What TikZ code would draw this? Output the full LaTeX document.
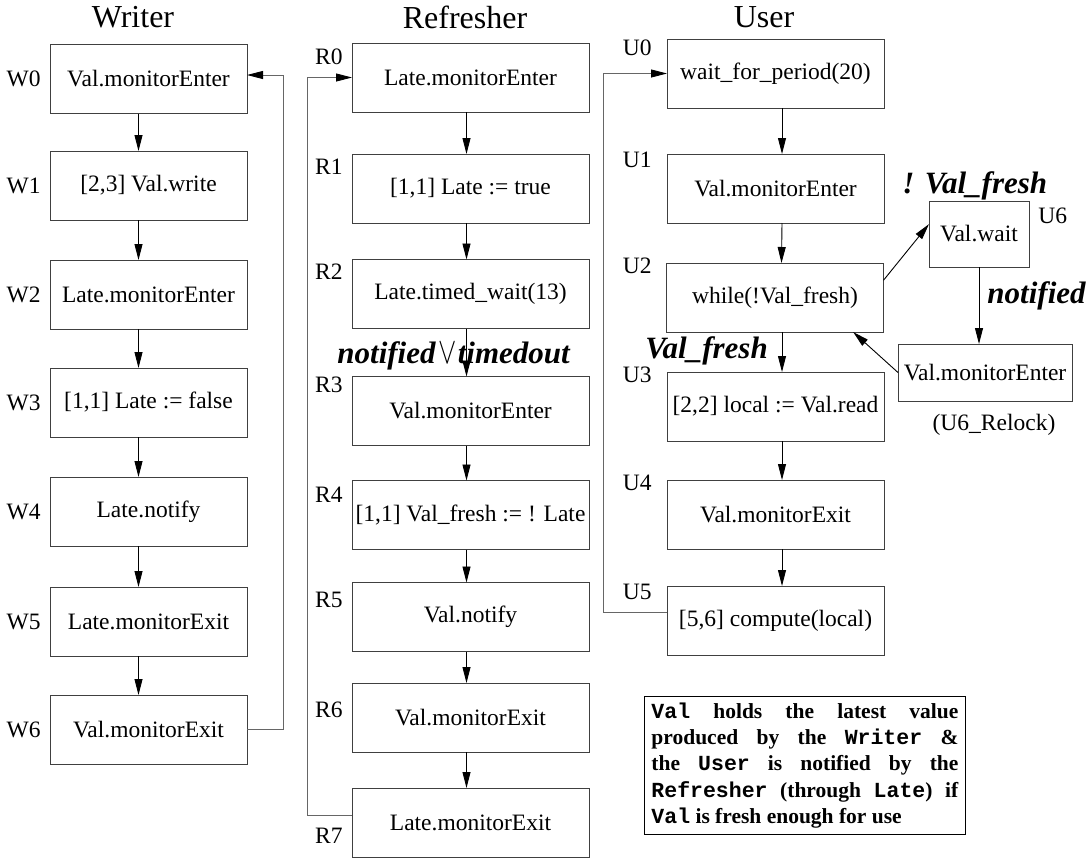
\documentclass[tikz,border=0pt]{standalone}
\usepackage{fontspec}
\setmainfont{Liberation Serif}
\setmonofont{Liberation Mono}
\usetikzlibrary{arrows.meta,positioning,calc}
\newcommand{\stepfont}{\fontsize{23.5}{28}\selectfont}
\newcommand{\colheadfont}{\fontsize{32}{38}\selectfont}
\newcommand{\condfont}{\fontsize{31}{36}\selectfont\bfseries\itshape}
\newcommand{\notefont}{\fontsize{21.5}{26.3}\selectfont\bfseries}
\tikzset{
	Loop/.style={draw=black!60, -{Triangle[length=16pt,width=8pt,color=black]}},
	Cond/.style={font=\condfont, anchor=base west},
	StateLbl/.style={anchor=east}
}

\begin{document}
\begin{tikzpicture}[x=1pt, y=-1pt, inner sep=0pt, font=\stepfont, line width=0.9pt,
		>={Triangle[length=16pt,width=8pt]},
		StepBox/.style={draw=black!75, minimum height=69pt, outer sep=0pt}]
	\useasboundingbox (0,0) rectangle (1090,860);
	% column headers
	\node[font=\colheadfont] (WriterT) at (133,17) {Writer};
	\node[font=\colheadfont] (RefresherT) at (465,17) {Refresher};
	\node[font=\colheadfont] (UserT) at (764,17) {User};
	% Writer
	\node[StepBox, minimum width=197pt] (W0) at (148.5,79) {Val.monitorEnter};
	\node[StepBox, minimum width=197pt] (W1) at (148.5,185.5) {[2,3] Val.write};
	\node[StepBox, minimum width=197pt] (W2) at (148.5,294.5) {Late.monitorEnter};
	\node[StepBox, minimum width=197pt] (W3) at (148.5,402.5) {[1,1] Late := false};
	\node[StepBox, minimum width=197pt] (W4) at (148.5,511.5) {Late.notify};
	\node[StepBox, minimum width=197pt] (W5) at (148.5,621.5) {Late.monitorExit};
	\node[StepBox, minimum width=197pt] (W6) at (148.5,729.5) {Val.monitorExit};
	\node[left=9pt of W0] (W0l) {W0};
	\node[left=9pt of W1] (W1l) {W1};
	\node[left=9pt of W2] (W2l) {W2};
	\node[left=9pt of W3] (W3l) {W3};
	\node[left=9pt of W4] (W4l) {W4};
	\node[left=9pt of W5] (W5l) {W5};
	\node[left=9pt of W6] (W6l) {W6};
	\draw[->] ([xshift=-10pt]W0.south) -- ([xshift=-10pt]W1.north);
	\draw[->] ([xshift=-10pt]W1.south) -- ([xshift=-10pt]W2.north);
	\draw[->] ([xshift=-10pt]W2.south) -- ([xshift=-10pt]W3.north);
	\draw[->] ([xshift=-10pt]W3.south) -- ([xshift=-10pt]W4.north);
	\draw[->] ([xshift=-10pt]W4.south) -- ([xshift=-10pt]W5.north);
	\draw[->] ([xshift=-10pt]W5.south) -- ([xshift=-10pt]W6.north);
	\draw[Loop] (W6.east) -- ++(36,0) |- ([yshift=4pt]W0.east);
	% Refresher
	\node[StepBox, minimum width=237pt] (R0) at (470.5,77.5) {Late.monitorEnter};
	\node[StepBox, minimum width=237pt] (R1) at (470.5,188.5) {[1,1] Late := true};
	\node[StepBox, minimum width=237pt] (R2) at (470.5,294) {Late.timed\_wait(13)};
	\node[StepBox, minimum width=237pt] (R3) at (470.5,411) {Val.monitorEnter};
	\node[StepBox, minimum width=237pt] (R4) at (470.5,515) {[1,1] Val\_fresh := ! Late};
	\node[StepBox, minimum width=237pt] (R5) at (470.5,617) {Val.notify};
	\node[StepBox, minimum width=237pt] (R6) at (470.5,717.5) {Val.monitorExit};
	\node[StepBox, minimum width=237pt] (R7) at (470.5,822.5) {Late.monitorExit};
	\node[StateLbl] (R0l) at (343,57) {R0};
	\node[StateLbl] (R1l) at (343,167) {R1};
	\node[StateLbl] (R2l) at (343,272) {R2};
	\node[StateLbl] (R3l) at (343,385) {R3};
	\node[StateLbl] (R4l) at (343,495) {R4};
	\node[StateLbl] (R5l) at (343,600) {R5};
	\node[StateLbl] (R6l) at (343,710) {R6};
	\node[StateLbl] (R7l) at (343,836) {R7};
	\draw[->] ([xshift=-4pt]R0.south) -- ([xshift=-4pt]R1.north);
	\draw[->] ([xshift=-4pt]R1.south) -- ([xshift=-4pt]R2.north);
	\draw[->] ([xshift=-4pt]R2.south) -- ([xshift=-4pt]R3.north);
	\draw[->] ([xshift=-4pt]R3.south) -- ([xshift=-4pt]R4.north);
	\draw[->] ([xshift=-4pt]R4.south) -- ([xshift=-4pt]R5.north);
	\draw[->] ([xshift=-4pt]R5.south) -- ([xshift=-4pt]R6.north);
	\draw[->] ([xshift=-4pt]R6.south) -- ([xshift=-4pt]R7.north);
	\draw[Loop] ([yshift=7.5pt]R7.west) -- ++(-45,0) |- (R0.west);
	\node[Cond] (R2c) at (337,363) {notified\kern3pt{\normalfont\scalebox{1.1}[1.5]{$\vee$}}\kern1pt timedout};
	% User
	\node[StepBox, minimum width=217pt] (U0) at (775.5,73.5) {wait\_for\_period(20)};
	\node[StepBox, minimum width=217pt] (U1) at (775.5,188.5) {Val.monitorEnter};
	\node[StepBox, minimum width=217pt] (U2) at (775,297.5) {while(!Val\_fresh)};
	\node[StepBox, minimum width=217pt] (U3) at (775.5,406.5) {[2,2] local := Val.read};
	\node[StepBox, minimum width=217pt] (U4) at (775.5,514.5) {Val.monitorExit};
	\node[StepBox, minimum width=217pt] (U5) at (775.5,620.5) {[5,6] compute(local)};
	\node[StepBox, minimum width=100pt, minimum height=66pt] (U6) at (979,234) {Val.wait};
	\node[StepBox, minimum width=174pt, minimum height=57pt] (U6r) at (985,372.5) {Val.monitorEnter};
	\node[below=13pt of U6r, xshift=9pt] (U6rl) {(U6\_Relock)};
	\node[StateLbl] (U0l) at (652,48) {U0};
	\node[StateLbl] (U1l) at (652,160) {U1};
	\node[StateLbl] (U2l) at (652,266) {U2};
	\node[StateLbl] (U3l) at (652,375) {U3};
	\node[StateLbl] (U4l) at (652,483) {U4};
	\node[StateLbl] (U5l) at (652,592) {U5};
	\node[anchor=west] (U6l) at (1038,216) {U6};
	\draw[->] ([xshift=6.5pt]U0.south) -- ([xshift=6.5pt]U1.north);
	\draw[->] ([xshift=6.5pt]U1.south) -- ([xshift=6.5pt]U2.north);
	\draw[->] ([xshift=7pt]U2.south) -- ([xshift=6.5pt]U3.north);
	\draw[->] ([xshift=6.5pt]U3.south) -- ([xshift=6.5pt]U4.north);
	\draw[->] ([xshift=6.5pt]U4.south) -- ([xshift=6.5pt]U5.north);
	\draw[->] ($(U2.north east)!0.25!(U2.south east)$) -- ($(U6.north west)!0.35!(U6.south west)$);
	\draw[->] (U6.south) -- (U6.south |- U6r.north);
	\draw[->] (U6r.west) -- ($(U2.south west)!0.86!(U2.south east)$);
	\draw[Loop] ([yshift=8.5pt]U5.west) -- ++(-64,0) |- (U0.west);
	\node[Cond] (U6c) at (902,193) {! Val\_fresh};
	\node[Cond] (U6n) at (987,303) {notified};
	\node[Cond] (U3c) at (645,358) {Val\_fresh};
	% note
	\node[draw, anchor=north west, text width=307pt, inner xsep=7pt, inner ysep=6.2pt, font=\notefont, align=justify] (Note) at (644,696)
		{\texttt{Val} holds the latest value\linebreak produced by the \texttt{Writer} \&\linebreak the \texttt{User} is notified by the\linebreak \texttt{Refresher} (through \texttt{Late}) if\linebreak \texttt{Val} is fresh enough for use};
\end{tikzpicture}
\end{document}
